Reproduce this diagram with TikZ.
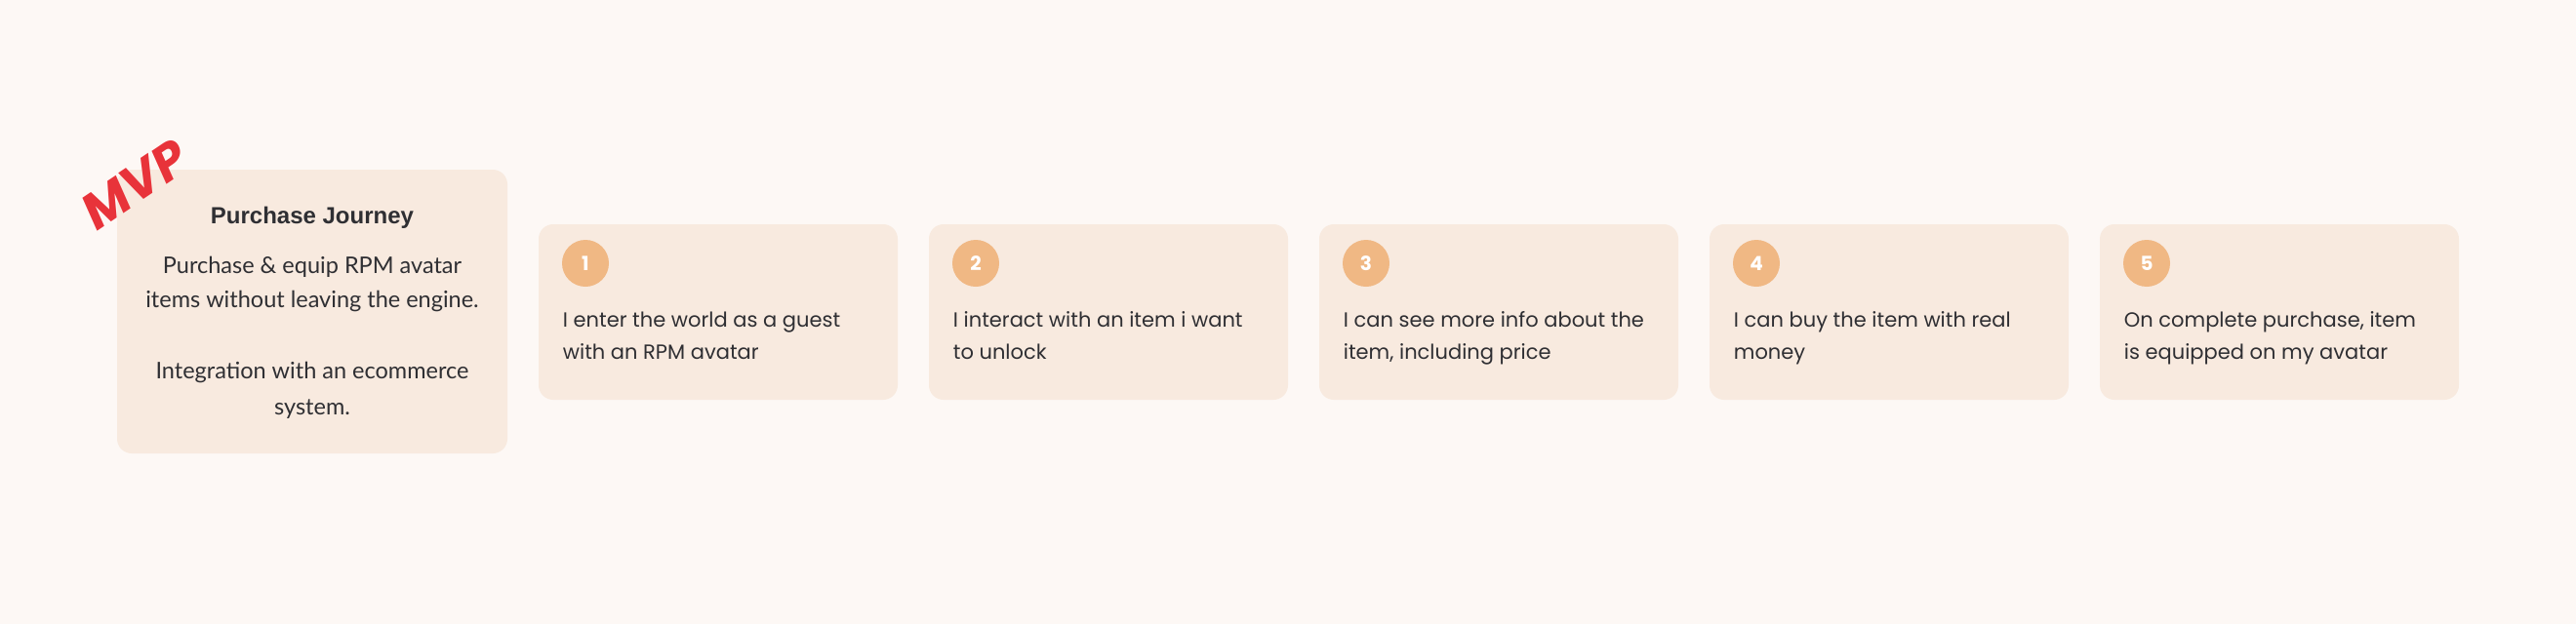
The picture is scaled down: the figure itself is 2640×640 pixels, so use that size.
\documentclass[tikz,border=0pt]{standalone}
\usepackage{fontspec}
\newfontfamily\popfont{Poppins}
\newfontfamily\bodyfont{Lato}
\newfontfamily\titlefont{Liberation Sans}
\definecolor{bgc}{HTML}{FDF8F5}
\definecolor{boxc}{HTML}{F8EADF}
\definecolor{circc}{HTML}{F0B884}
\definecolor{txtc}{HTML}{2F2F33}
\definecolor{mvpc}{HTML}{E8333A}
\tikzset{
  card/.style={fill=boxc, draw=none, rounded corners=15pt},
  badge/.style={circle, fill=circc, minimum size=48pt, inner sep=0pt, text=white, font={\popfont\bfseries\fontsize{20}{20}\selectfont}},
  steptext/.style={anchor=base west, align=left, inner sep=0pt, text=txtc, font={\popfont\fontsize{21}{33}\selectfont}},
  bodytext/.style={anchor=base, inner sep=0pt, text=txtc, font={\bodyfont\fontsize{23.5}{23.5}\selectfont}},
}
\begin{document}
\begin{tikzpicture}[x=1pt,y=-1pt]
\fill[bgc] (0,0) rectangle (2640,640);
\useasboundingbox (0,0) rectangle (2640,640);
% main card
\fill[card] (120,174) rectangle (520,465);
\node (main) at (320,320) {};
\node[anchor=base, inner sep=0pt, text=txtc, font={\titlefont\bfseries\fontsize{24}{24}\selectfont}] (title) at (320,229) {Purchase Journey};
\node[bodytext] (b1) at (320,280) {Purchase \& equip RPM avatar};
\node[bodytext] (b2) at (320,315) {items without leaving the engine.};
\node[bodytext] (b3) at (320,388) {Integration with an ecommerce};
\node[bodytext] (b4) at (320,425) {system.};
% MVP stamp
\node[rotate=34, text=mvpc, inner sep=0pt, font={\popfont\bfseries\itshape\fontsize{52}{52}\selectfont}] (mvp) at (138,189) {MVP};
% steps
\foreach \i/\la/\lb in {1/{I enter the world as a guest}/{with an RPM avatar},
                      2/{I interact with an item i want}/{to unlock},
                      3/{I can see more info about the}/{item, including price},
                      4/{I can buy the item with real}/{money},
                      5/{On complete purchase, item}/{is equipped on my avatar}}{
  \pgfmathsetmacro{\xl}{552+400*(\i-1)}
  \fill[card] (\xl,230) rectangle ++(368,180);
  \node[badge] (n\i) at (\xl+48,270) {\i};
  \node[steptext] (t\i) at (\xl+24.7,335) {\la};
  \node[steptext] (u\i) at (\xl+24.7,368) {\lb};
}
\end{tikzpicture}
\end{document}
